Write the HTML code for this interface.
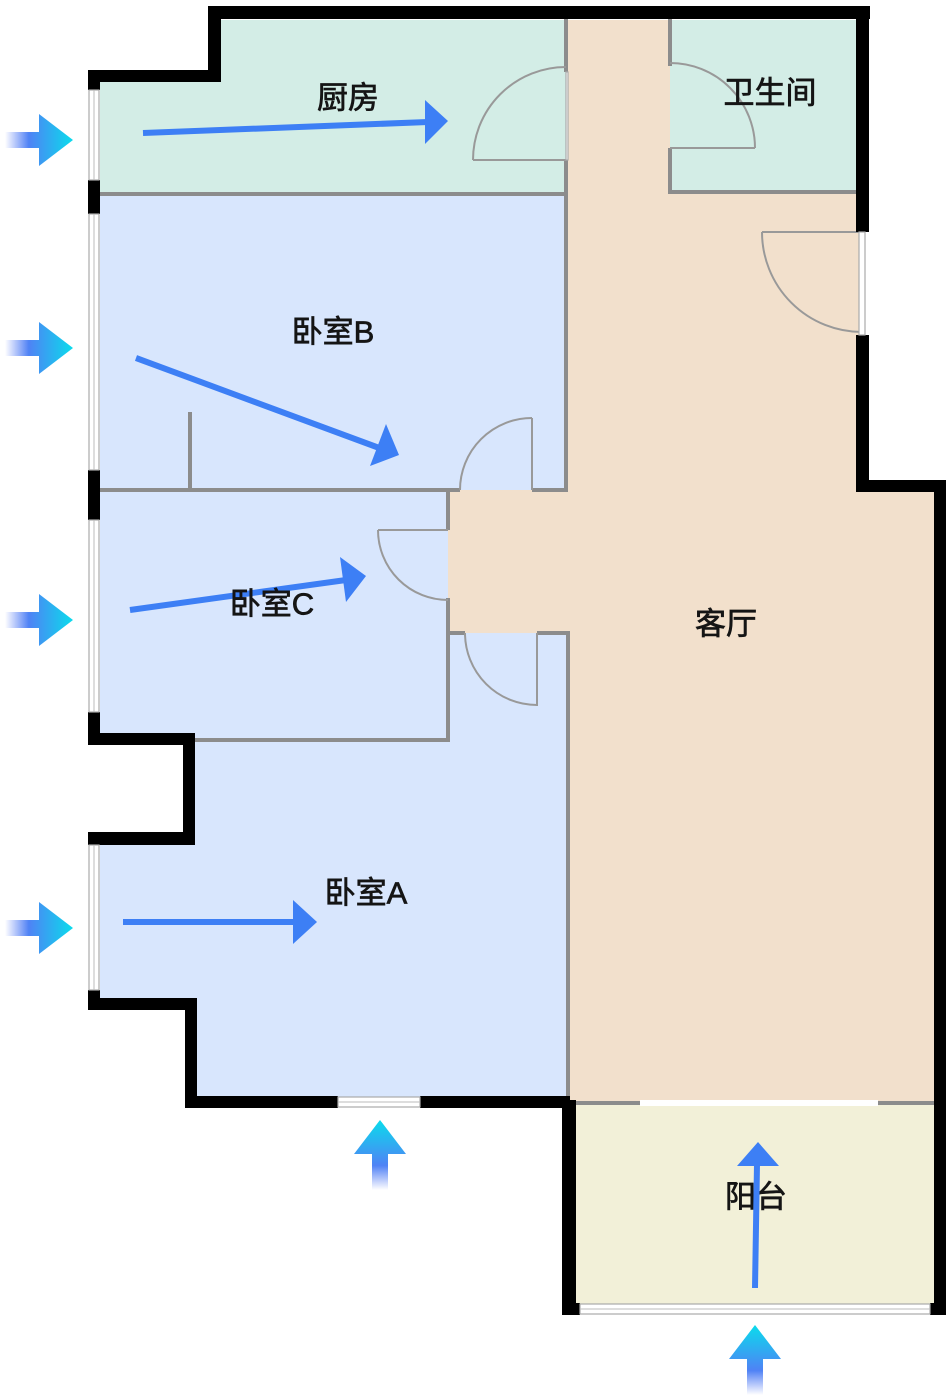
<!DOCTYPE html>
<html><head><meta charset="utf-8"><style>
body{margin:0;background:#fff;}
svg{display:block}
text{font-family:"Liberation Sans","Noto Sans CJK SC",sans-serif;font-size:31px;fill:#151515;stroke:#151515;stroke-width:0.7px;text-anchor:middle;dominant-baseline:central}
</style></head><body>
<svg width="952" height="1400" viewBox="0 0 952 1400" xmlns="http://www.w3.org/2000/svg">
<defs>
<linearGradient id="gh" x1="0" y1="0" x2="1" y2="0"><stop offset="0" stop-color="#5b7cf5" stop-opacity="0"/><stop offset="0.35" stop-color="#4f82f5"/><stop offset="1" stop-color="#0adcec"/></linearGradient>
<linearGradient id="gv" x1="0" y1="1" x2="0" y2="0"><stop offset="0" stop-color="#5b7cf5" stop-opacity="0"/><stop offset="0.35" stop-color="#4f82f5"/><stop offset="1" stop-color="#0adcec"/></linearGradient>
<g id="wh"><path d="M0,-8 H34 V-26 L68,0 L34,26 V8 H0 Z" fill="url(#gh)"/></g>
<g id="wv"><path d="M-8,0 V-36 H-26 L0,-70 L26,-36 H8 V0 Z" fill="url(#gv)"/></g>
</defs>
<rect x="100" y="82" width="466" height="112" fill="#d3ede6"/>
<rect x="220" y="20" width="346" height="80" fill="#d3ede6"/>
<rect x="670" y="20" width="190" height="172" fill="#d3ede6"/>
<rect x="566" y="20" width="104" height="472" fill="#f2e0cc"/>
<rect x="670" y="192" width="190" height="300" fill="#f2e0cc"/>
<rect x="566" y="488" width="370" height="614" fill="#f2e0cc"/>
<rect x="448" y="490" width="120" height="143" fill="#f2e0cc"/>
<rect x="100" y="196" width="466" height="294" fill="#d8e6fd"/>
<rect x="100" y="492" width="348" height="248" fill="#d8e6fd"/>
<rect x="195" y="633" width="373" height="465" fill="#d8e6fd"/>
<rect x="448" y="633" width="120" height="110" fill="#d8e6fd"/>
<rect x="100" y="845" width="100" height="155" fill="#d8e6fd"/>
<rect x="576" y="1104" width="358" height="200" fill="#f2f0d8"/>
<g stroke="#8c8c8c" stroke-width="4" fill="none">
<line x1="100" y1="194" x2="566" y2="194"/>
<line x1="566" y1="14" x2="566" y2="72"/><line x1="566" y1="160" x2="566" y2="490"/>
<line x1="670" y1="14" x2="670" y2="66"/><line x1="670" y1="148" x2="670" y2="192"/>
<line x1="668" y1="192" x2="862" y2="192"/>
<line x1="100" y1="490" x2="460" y2="490"/><line x1="532" y1="490" x2="568" y2="490"/>
<line x1="190" y1="412" x2="190" y2="490"/>
<line x1="448" y1="490" x2="448" y2="530"/><line x1="448" y1="598" x2="448" y2="742"/>
<line x1="190" y1="740" x2="448" y2="740"/>
<line x1="448" y1="633" x2="465" y2="633"/><line x1="537" y1="633" x2="570" y2="633"/>
<line x1="568" y1="633" x2="568" y2="1102"/>
<line x1="568" y1="1103" x2="640" y2="1103"/><line x1="878" y1="1103" x2="934" y2="1103"/>
</g>
<g stroke="#999" stroke-width="2" fill="none">
<line x1="473" y1="160" x2="566" y2="160"/><path d="M473,160 A93,93 0 0 1 566,67"/>
<line x1="670" y1="148" x2="755" y2="148"/><path d="M755,148 A85,85 0 0 0 670,63"/>
<line x1="762" y1="232" x2="862" y2="232"/><path d="M762,232 A100,100 0 0 0 862,332"/>
<line x1="532" y1="418" x2="532" y2="490"/><path d="M532,418 A72,72 0 0 0 460,490"/>
<line x1="378" y1="530" x2="448" y2="530"/><path d="M378,530 A70,70 0 0 0 448,600"/>
<line x1="537" y1="633" x2="537" y2="706"/><path d="M465,633 A72,72 0 0 0 537,705"/>
</g>
<g fill="#000">
<rect x="208" y="6" width="662" height="13"/>
<rect x="208" y="6" width="13" height="76"/>
<rect x="88" y="70" width="133" height="12"/>
<rect x="88" y="70" width="12" height="20"/>
<rect x="88" y="180" width="12" height="34"/>
<rect x="88" y="470" width="12" height="50"/>
<rect x="88" y="712" width="12" height="33"/>
<rect x="88" y="733" width="107" height="12"/>
<rect x="183" y="733" width="12" height="112"/>
<rect x="88" y="832" width="107" height="13"/>
<rect x="88" y="990" width="12" height="20"/>
<rect x="88" y="998" width="109" height="12"/>
<rect x="185" y="998" width="12" height="110"/>
<rect x="185" y="1096" width="153" height="12"/>
<rect x="420" y="1096" width="150" height="12"/>
<rect x="856" y="6" width="13" height="226"/>
<rect x="856" y="335" width="13" height="157"/>
<rect x="856" y="480" width="90" height="12"/>
<rect x="934" y="480" width="12" height="835"/>
<rect x="562" y="1100" width="14" height="215"/>
<rect x="562" y="1303" width="18" height="12"/>
<rect x="930" y="1303" width="16" height="12"/>
</g>
<g fill="#fff" stroke="#aaa" stroke-width="1.2">
<rect x="89" y="90" width="10" height="90"/>
<rect x="89" y="214" width="10" height="256"/>
<rect x="89" y="520" width="10" height="192"/>
<rect x="89" y="845" width="10" height="145"/>
<rect x="338" y="1097" width="82" height="10"/>
<rect x="580" y="1304" width="350" height="10"/>
<rect x="859" y="232" width="6" height="103"/>
<rect x="566" y="72" width="2" height="88"/>
</g>
<g stroke="#bbb" stroke-width="1">
<line x1="94" y1="90" x2="94" y2="180"/><line x1="94" y1="214" x2="94" y2="470"/><line x1="94" y1="520" x2="94" y2="712"/><line x1="94" y1="845" x2="94" y2="990"/>
<line x1="338" y1="1102" x2="420" y2="1102"/><line x1="580" y1="1309" x2="930" y2="1309"/>
</g>
<rect x="640" y="1100" width="238" height="6" fill="#fff"/>
<text x="348" y="98">厨房</text>
<text x="770" y="93">卫生间</text>
<text x="333" y="332">卧室B</text>
<text x="726" y="624">客厅</text>
<text x="366" y="893">卧室A</text>
<text x="756" y="1197">阳台</text>
<g stroke="#3d7ff5" stroke-width="6" fill="none">
<line x1="143" y1="133" x2="428" y2="122"/>
<line x1="136" y1="358" x2="382" y2="449"/>
<line x1="130" y1="610" x2="346" y2="580"/>
<line x1="123" y1="922" x2="296" y2="922"/>
<line x1="755" y1="1288" x2="757" y2="1164"/>
</g>
<g fill="#3d7ff5">
<polygon points="448,121 425,100 425,144"/>
<polygon points="399,455 386,424 370,466"/>
<polygon points="366,576 340,557 346,602"/>
<polygon points="317,922 293,900 293,944"/>
<polygon points="758,1142 737,1166 779,1166"/>
</g>
<text x="272" y="604">卧室C</text>
<use href="#wh" x="5" y="140"/>
<use href="#wh" x="5" y="348"/>
<use href="#wh" x="5" y="620"/>
<use href="#wh" x="5" y="928"/>
<use href="#wv" x="380" y="1190"/>
<use href="#wv" x="755" y="1395"/>
</svg>
</body></html>
